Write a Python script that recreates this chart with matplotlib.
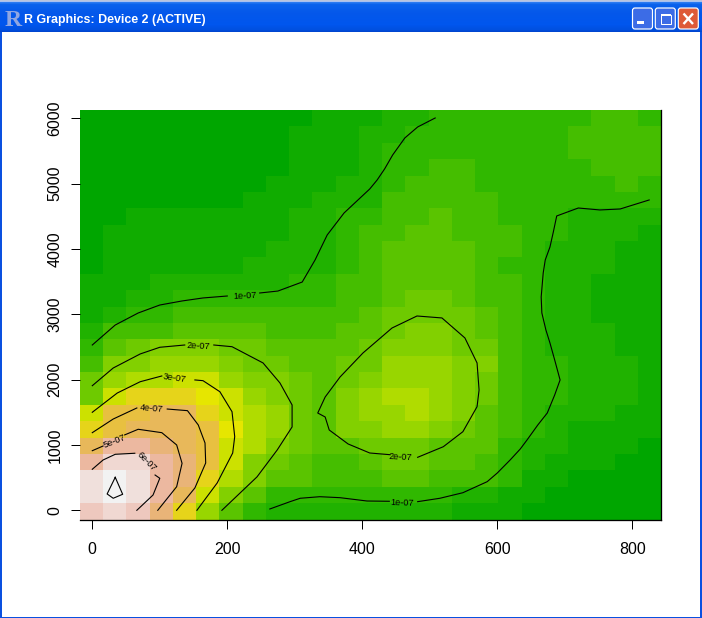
import numpy as np
import matplotlib
matplotlib.use("Agg")
import matplotlib.pyplot as plt
from matplotlib.colors import ListedColormap, to_rgb
from matplotlib.patches import FancyBboxPatch, Rectangle

# ---- data -------------------------------------------------------------
x_ticks = [0, 200, 400, 600, 800]
y_ticks = [0, 1000, 2000, 3000, 4000, 5000, 6000]
x_limits = (-18.2, 842.5)
y_limits = (-141, 6127)

level_colors = ["#00A600", "#10AC00", "#20B200", "#30B800", "#45BE00", "#5AC400",
                "#6ECA00", "#82D000", "#98D600", "#B0DC00", "#CCE100", "#E6E600",
                "#E6D41A", "#E8C040", "#E8B85A", "#E9B478", "#ECB8A0", "#EEC8BE",
                "#F0D8D2", "#F0E0DC", "#F2F2F2"]

# density level of every grid cell, top row first
density_levels = [
    [0,0,0,0,0,0,0,0,0,0,1,1,1,2,2,3,3,3,3,3,3,3,4,4,3],
    [0,0,0,0,0,0,0,0,0,1,1,1,2,2,3,3,3,3,3,3,3,4,4,4,4],
    [0,0,0,0,0,0,0,0,0,1,1,1,2,3,3,3,3,3,3,3,3,4,4,4,4],
    [0,0,0,0,0,0,0,0,0,1,1,1,2,3,3,4,4,3,3,3,3,3,4,4,4],
    [0,0,0,0,0,0,0,0,1,1,1,2,2,3,4,4,4,3,3,3,3,3,3,4,3],
    [0,0,0,0,0,0,0,1,1,1,2,2,2,4,4,4,4,4,3,3,3,3,3,3,3],
    [0,0,1,1,1,1,1,1,1,2,2,3,3,4,4,5,4,4,3,3,3,2,2,2,2],
    [0,1,1,1,1,1,1,1,1,2,2,3,4,4,5,5,4,4,4,3,3,2,2,2,1],
    [0,1,1,1,1,1,1,1,2,2,2,3,4,5,5,5,5,4,4,3,2,2,2,1,1],
    [0,1,1,1,1,1,1,2,2,2,2,3,4,5,5,5,5,4,3,3,2,2,2,1,1],
    [1,1,1,2,2,2,2,2,2,3,3,4,4,5,5,5,5,4,4,3,2,2,1,1,1],
    [1,1,2,2,3,3,3,3,3,3,3,4,4,5,6,6,5,4,4,3,2,2,1,1,1],
    [1,2,3,3,4,4,4,4,4,4,4,4,5,6,6,6,6,5,4,3,2,2,1,1,1],
    [2,4,4,4,5,5,5,5,4,4,4,5,5,6,7,7,6,5,4,3,2,2,2,1,1],
    [3,5,6,7,7,7,6,6,5,5,5,5,6,7,7,7,6,6,4,3,2,2,2,1,1],
    [4,7,7,8,8,8,7,6,6,5,5,6,6,8,8,8,7,7,4,3,3,2,2,2,1],
    [6,8,9,9,10,10,8,7,7,6,5,6,7,8,8,8,7,6,4,3,3,2,2,2,1],
    [6,10,12,12,12,11,10,8,7,6,5,7,8,9,9,8,7,6,4,3,3,2,2,2,1],
    [10,13,13,14,14,12,10,9,8,6,5,7,8,8,9,8,7,5,4,3,2,2,2,1,1],
    [12,13,14,14,14,13,11,9,8,6,5,7,7,8,8,7,6,5,4,3,2,1,1,1,1],
    [14,16,16,15,14,13,10,9,7,6,5,5,6,6,6,5,5,5,3,2,2,1,1,1,0],
    [16,18,18,16,15,13,10,7,6,5,4,4,5,6,6,5,5,4,3,2,1,1,1,0,0],
    [19,20,19,16,15,12,9,7,5,5,4,4,4,5,5,4,4,4,3,1,1,0,0,0,0],
    [19,20,19,16,14,10,7,5,3,3,3,3,3,3,3,3,2,2,1,1,0,0,0,0,0],
    [17,18,17,15,12,8,5,3,2,2,2,2,2,2,2,2,1,1,1,0,0,0,0,0,0],
]

# contour lines, each (x values, y values)
contours = [
    ([0,34,68,100,133,164,200], [2530,2836,3020,3142,3204,3250,3280]),
    ([248,275,311,330,348,373,411,422,433,445,463,482,508],
     [3326,3356,3494,3831,4214,4551,4918,5056,5224,5439,5699,5867,6005]),
    ([263,293,308,337,367,407,440], [20,132,184,208,193,142,138]),
    ([482,515,549,585,600,619,634,644,660,674,685,693,685,678,672,666,665,668,671,678,683,688,720,752,782,801,825],
     [132,184,269,438,571,770,938,1076,1306,1489,1765,1995,2301,2561,2760,3020,3265,3632,3831,4030,4260,4505,4627,4597,4612,4673,4750]),
    ([482,520,549,570,573,570,552,518,481,444,401,367,345,334,345,351,379,411,441],
     [811,973,1203,1586,1841,2255,2638,2944,2974,2790,2408,2040,1734,1489,1428,1229,1015,877,851]),
    ([0,31,71,100,137], [1907,2178,2393,2495,2530]),
    ([180,207,253,278,296,296,274,244,192], [2530,2504,2255,1949,1612,1276,924,511,0]),
    ([0,37,71,103], [1500,1795,1968,2056]),
    ([152,164,189,207,211,208,185,155], [1995,1984,1815,1509,1127,877,418,0]),
    ([0,31,66], [1188,1397,1566]),
    ([111,141,157,167,168,152,125], [1550,1525,1306,1030,724,342,0]),
    ([0,16], [912,984]),
    ([48,68,103,125,133,125,97], [1154,1240,1188,1000,719,361,0]),
    ([0,16,34,63], [628,770,857,873]),
    ([93,100,90,66], [540,490,234,0]),
    ([34,45,31,22,34], [505,245,184,250,505]),
]

label_texts = ["1e-07", "2e-07", "3e-07", "4e-07", "5e-07", "6e-07", "2e-07", "1e-07"]
label_x = [226, 157, 122, 88, 33, 80, 456, 459]
label_y = [3288, 2515, 2018, 1558, 1061, 739, 816, 112]
label_angle = [3, -3, -8, -5, 22, -45, -3, -2]

title_text = "R Graphics: Device 2 (ACTIVE)"

# ---- main plot --------------------------------------------------------
W, H = 702, 618
fig = plt.figure(figsize=(W / 100, H / 100), dpi=100, facecolor="white")
plt.rcParams["font.family"] = ["Liberation Sans", "DejaVu Sans"]
PX = 0.72
ax = fig.add_axes([80 / W, (H - 519.5) / H, 581 / W, 409.5 / H])
z = np.array(density_levels)[::-1]
xe = np.linspace(x_limits[0], x_limits[1], z.shape[1] + 1)
ye = np.linspace(y_limits[0], y_limits[1], z.shape[0] + 1)
ax.pcolormesh(xe, ye, z, cmap=ListedColormap(level_colors), vmin=-0.5,
              vmax=len(level_colors) - 0.5, shading="flat", linewidth=0, antialiased=False)
for cx, cy in contours:
    ax.plot(cx, cy, color="black", lw=0.8, solid_joinstyle="round")
for t, lx, ly, a in zip(label_texts, label_x, label_y, label_angle):
    ax.text(lx, ly, t, fontsize=6.6, rotation=a, rotation_mode="anchor",
            ha="center", va="center", color="black")
ax.set_xlim(*x_limits)
ax.set_ylim(*y_limits)
ax.set_xticks(x_ticks)
ax.set_yticks(y_ticks)
ax.tick_params(axis="x", length=6.5, width=PX, pad=10, labelsize=11.5, color="black")
ax.tick_params(axis="y", length=6.5, width=PX, pad=6, labelsize=11.5, color="black")
for lab in ax.get_yticklabels():
    lab.set_rotation(90)
    lab.set_va("center")
for side in ("left", "top"):
    ax.spines[side].set_visible(False)
for side in ("right", "bottom"):
    ax.spines[side].set_linewidth(PX * 1.3)

# ---- window frame -----------------------------------------------------
ch = fig.add_axes([0, 0, 1, 1], zorder=10)
ch.set_xlim(0, W)
ch.set_ylim(H, 0)
ch.axis("off")
ch.patch.set_alpha(0)

stops = [(0, "#B8C4DC"), (1, "#A8C0F0"), (2, "#2A7AF0"), (4, "#0A62EC"), (12, "#0558EA"),
         (24, "#0056EE"), (29, "#0050E0"), (32, "#0040C8")]
rows = np.arange(32)
grad = np.array([np.interp(rows, [s[0] for s in stops], [to_rgb(s[1])[i] for s in stops])
                 for i in range(3)]).T[:, None, :]
ch.imshow(grad, extent=(0, W, 32, 0), aspect="auto", interpolation="nearest", zorder=1)
ch.set_xlim(0, W)
ch.set_ylim(H, 0)
border = "#0A50E0"
ch.add_patch(Rectangle((0, 32), 2, H - 32, fc=border, ec="none", zorder=2))
ch.add_patch(Rectangle((700, 32), 2, H - 32, fc=border, ec="none", zorder=2))
ch.add_patch(Rectangle((0, H - 1.5), W, 1.5, fc=border, ec="none", zorder=2))

ch.text(4.5, 26, "R", family="Liberation Serif", weight="bold", fontsize=17,
        color="#8FA6E2", ha="left", va="baseline", zorder=3)
ch.text(24, 19.5, title_text, family="Liberation Sans", weight="bold", fontsize=8.9,
        color="white", ha="left", va="center", zorder=3)


def button(x0, fill):
    ch.add_patch(FancyBboxPatch((x0 + 2, 10), 16, 17, boxstyle="round,pad=2,rounding_size=2.5",
                                fc=fill, ec="white", lw=PX * 1.2, zorder=3))


button(632.5, "#3C6CE6")
button(655.3, "#3C6CE6")
button(678.3, "#DE5A38")
ch.add_patch(Rectangle((637.3, 21), 7, 2.5, fc="white", ec="none", zorder=4))
ch.add_patch(Rectangle((660.5, 14.5), 10, 9.5, fc="none", ec="white", lw=PX, zorder=4))
ch.add_patch(Rectangle((660.5, 14), 10, 2.2, fc="white", ec="none", zorder=4))
ch.plot([683.5, 693], [13.5, 24], color="white", lw=1.7, zorder=4, solid_capstyle="butt")
ch.plot([683.5, 693], [24, 13.5], color="white", lw=1.7, zorder=4, solid_capstyle="butt")

fig.savefig("out.png", dpi=100, facecolor="white")
